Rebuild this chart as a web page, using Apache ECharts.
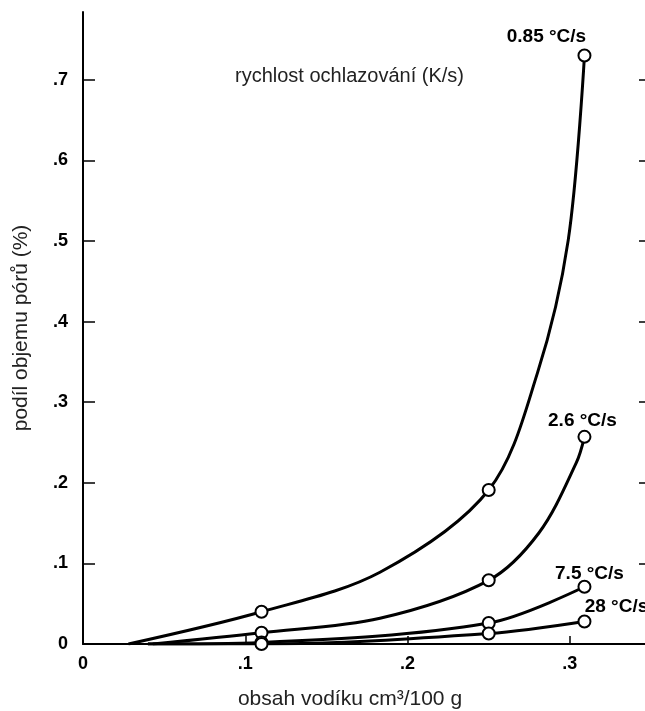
<!DOCTYPE html>
<html>
<head>
<meta charset="utf-8">
<script src="https://cdn.jsdelivr.net/npm/echarts@6/dist/echarts.min.js"></script>
<style>
html,body{margin:0;padding:0;background:#fff;overflow:hidden;}
#chart{width:645px;height:711px;}
</style>
</head>
<body>
<div id="chart"></div>
<script>
// ---- data ----
const seriesNames = ['0.85 °C/s', '2.6 °C/s', '7.5 °C/s', '28 °C/s'];
const legendTitle = 'rychlost ochlazování (K/s)';
const xAxisName = 'obsah vodíku cm³/100 g';
const yAxisName = 'podíl objemu pórů (%)';

// measured points (open circles)
const measuredX = [0.11, 0.25, 0.309];
const measured085 = [0.040, 0.191, 0.730];
const measured26 = [0.014, 0.079, 0.257];
const measured75 = [0.002, 0.026, 0.071];
const measured28 = [0.000, 0.013, 0.028];

// points
const trace085 = [[0.028,0],[0.11,0.040],[0.183,0.089],[0.25,0.191],[0.28,0.336],[0.299,0.501],[0.309,0.730]];
const trace26 = [[0.043,0],[0.11,0.014],[0.183,0.032],[0.25,0.079],[0.281,0.138],[0.304,0.225],[0.309,0.257]];
const trace75 = [[0.04,0],[0.11,0.002],[0.25,0.026],[0.309,0.071]];
const trace28 = [[0.04,0],[0.11,0.000],[0.25,0.013],[0.309,0.028]];

const yTickValues = [0, 0.1, 0.2, 0.3, 0.4, 0.5, 0.6, 0.7];
const yTickLabels = ['0', '.1', '.2', '.3', '.4', '.5', '.6', '.7'];
const xLabelValues = [0, 0.1, 0.2, 0.3];
const xLabelTexts = ['0', '.1', '.2', '.3'];
const xTickValues = [0.1, 0.2, 0.3];

// ---- build chart ----
const measured = [measured085, measured26, measured75, measured28];
const traces = [trace085, trace26, trace75, trace28];
const labelOffsets = [[-38, 3], [-2, 5], [5, 9], [32, 7]];
const FONT = 'Liberation Sans, Arial, sans-serif';

function lookup(vals, texts, v) {
  const i = vals.findIndex(t => Math.abs(t - v) < 1e-9);
  return i >= 0 ? texts[i] : '';
}

const series = [];
traces.forEach((tr) => {
  series.push({
    type: 'line', data: tr, smooth: 0.33, showSymbol: false, symbol: 'none',
    lineStyle: {color: '#000', width: 3}, z: 2, silent: true
  });
});
measured.forEach((m, k) => {
  series.push({
    type: 'scatter', name: seriesNames[k],
    symbol: 'circle', symbolSize: 12,
    itemStyle: {color: '#fff', borderColor: '#000', borderWidth: 2, opacity: 1},
    z: 3,
    data: m.map((y, i) => {
      const d = {value: [measuredX[i], y]};
      if (i === m.length - 1) {
        d.label = {
          show: true, formatter: seriesNames[k], position: 'top',
          offset: labelOffsets[k], color: '#000',
          fontFamily: FONT, fontWeight: 'bold', fontSize: 19
        };
      }
      return d;
    })
  });
});

const chart = echarts.init(document.getElementById('chart'), null, {renderer: 'canvas'});
chart.setOption({
  animation: false,
  backgroundColor: '#fff',
  title: {
    text: legendTitle, left: 230, top: 61,
    textStyle: {fontFamily: FONT, fontWeight: 'normal', fontSize: 20, color: '#222'}
  },
  grid: {left: 83, width: 568, top: 12, height: 632, containLabel: false, outerBoundsMode: 'none'},
  xAxis: {
    type: 'value', min: 0, max: 0.35,
    name: xAxisName, nameLocation: 'middle', nameGap: 45,
    nameTextStyle: {fontFamily: FONT, fontSize: 21, color: '#222', padding: [0, 34, 0, 0]},
    axisLine: {show: true, lineStyle: {color: '#000', width: 2}},
    axisTick: {show: true, inside: true, length: 8, customValues: xTickValues, lineStyle: {color: '#000', width: 1.5}},
    axisLabel: {
      customValues: xLabelValues, margin: 11,
      formatter: v => lookup(xLabelValues, xLabelTexts, v),
      fontFamily: FONT, fontWeight: 'bold', fontSize: 18, color: '#000'
    },
    splitLine: {show: false}
  },
  yAxis: [{
    type: 'value', min: 0, max: 0.784, position: 'left',
    name: yAxisName, nameLocation: 'middle', nameGap: 51,
    nameTextStyle: {fontFamily: FONT, fontSize: 21, color: '#222'},
    axisLine: {show: true, lineStyle: {color: '#000', width: 2}},
    axisTick: {show: true, inside: true, length: 12, customValues: yTickValues, lineStyle: {color: '#000', width: 1.5}},
    axisLabel: {
      customValues: yTickValues, margin: 15,
      formatter: v => lookup(yTickValues, yTickLabels, v),
      fontFamily: FONT, fontWeight: 'bold', fontSize: 18, color: '#000'
    },
    splitLine: {show: false}
  }, {
    type: 'value', min: 0, max: 0.784, position: 'right',
    axisLine: {show: true, lineStyle: {color: '#000', width: 2}},
    axisTick: {show: true, inside: true, length: 12, customValues: yTickValues, lineStyle: {color: '#000', width: 1.5}},
    axisLabel: {show: false},
    splitLine: {show: false}
  }],
  series: series
});
</script>
</body>
</html>
